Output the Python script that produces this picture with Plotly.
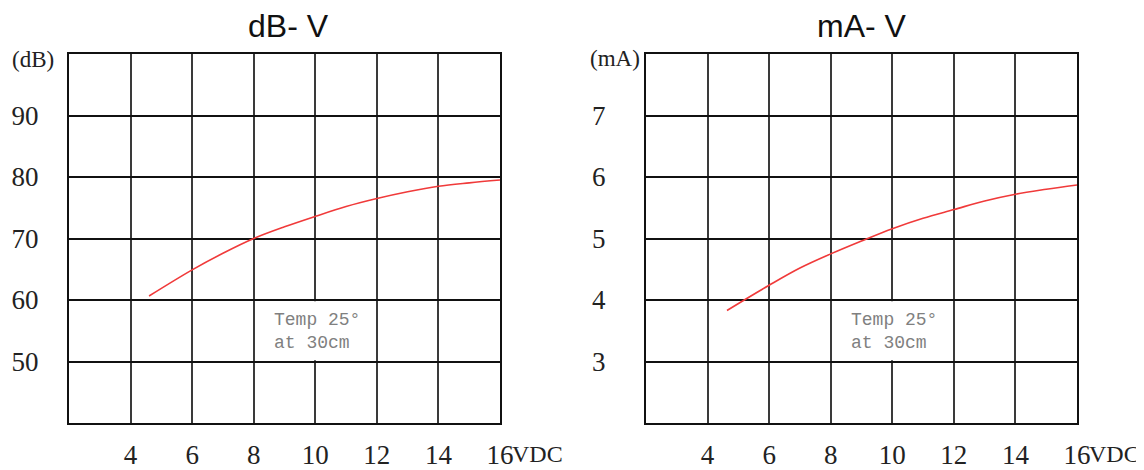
import plotly.graph_objects as go

# ---- data ----
volts_db = [4.6, 6, 7, 8, 9, 10, 11, 12, 13, 14, 15, 16]
db_values = [60.65, 64.9, 67.6, 70.0, 71.9, 73.6, 75.2, 76.5, 77.6, 78.5, 79.05, 79.5]

volts_ma = [4.63, 6, 7, 8, 9, 10, 11, 12, 13, 14, 15, 16]
ma_values = [3.83, 4.24, 4.52, 4.75, 4.96, 5.16, 5.33, 5.47, 5.61, 5.72, 5.80, 5.87]

x_ticks = [4, 6, 8, 10, 12, 14, 16]
x_ticktext = ["4", "6", "8", "10", "12", "14", "16"]
db_ticks = [50, 60, 70, 80, 90]
ma_ticks = [3, 4, 5, 6, 7]

OFF = 8  # page body margin
W, H = 1144 - OFF, 470 - OFF
def px(v): return (v - OFF) / W
def py(v): return 1 - (v - OFF) / H

LINE_RED = "#f03a3a"
SERIF = "Liberation Serif"

fig = go.Figure()
fig.add_trace(go.Scatter(x=volts_db, y=db_values, mode="lines", line=dict(color=LINE_RED, width=1.6, shape="spline"),
                         xaxis="x", yaxis="y", showlegend=False, hoverinfo="skip"))
fig.add_trace(go.Scatter(x=volts_ma, y=ma_values, mode="lines", line=dict(color=LINE_RED, width=1.6, shape="spline"),
                         xaxis="x2", yaxis="y2", showlegend=False, hoverinfo="skip"))

common_x = dict(range=[2, 16], tickvals=x_ticks, ticktext=x_ticktext, showgrid=True, gridcolor="#3a3a3a", gridwidth=2.2,
                showline=True, mirror=True, linecolor="#111", linewidth=2, zeroline=False, ticks="", automargin=False,
                tickfont=dict(family=SERIF, size=27, color="#222"), ticklabelstandoff=7, fixedrange=True)
common_y = dict(showgrid=True, gridcolor="#111", gridwidth=1.8, showline=True, mirror=True, linecolor="#111",
                linewidth=2, zeroline=False, ticks="", automargin=False,
                tickfont=dict(family=SERIF, size=27, color="#222"), fixedrange=True)

dom1 = [px(69), px(500)]
dom2 = [px(646), px(1077)]
ydom = [py(423), py(54)]

fig.update_layout(
    template="none",
    width=W, height=H, margin=dict(l=0, r=0, t=0, b=0, autoexpand=False),
    paper_bgcolor="white", plot_bgcolor="white",
    xaxis=dict(domain=dom1, anchor="y", **common_x),
    yaxis=dict(domain=ydom, anchor="x", range=[40, 100], tickvals=db_ticks, ticklabelstandoff=23, **common_y),
    xaxis2=dict(domain=dom2, anchor="y2", **common_x),
    yaxis2=dict(domain=ydom, anchor="x2", range=[2, 8], tickvals=ma_ticks, ticklabelstandoff=33, **common_y),
)

# white box behind the temperature note
fig.add_shape(type="rect", xref="x", yref="y", x0=8.06, x1=11.94, y0=50.2, y1=59.8,
              fillcolor="white", line=dict(width=0), layer="between")
fig.add_shape(type="rect", xref="x2", yref="y2", x0=8.06, x1=11.94, y0=3.02, y1=3.98,
              fillcolor="white", line=dict(width=0), layer="between")

note = "Temp 25°<br>at 30cm"
fig.add_annotation(text=note, xref="x", yref="y", x=8.6, y=54.8, xanchor="left", yanchor="middle", showarrow=False,
                   align="left", font=dict(family="Liberation Mono", size=18, color="#808080"))
fig.add_annotation(text=note, xref="x2", yref="y2", x=8.6, y=2 + (54.8 - 40) / 10, xanchor="left", yanchor="middle",
                   showarrow=False, align="left", font=dict(family="Liberation Mono", size=18, color="#808080"))

# titles
fig.add_annotation(text="dB- V", xref="paper", yref="paper", x=px(288), y=py(26), xanchor="center",
                   yanchor="middle", showarrow=False, font=dict(family="Liberation Sans", size=32, color="#111"))
fig.add_annotation(text="mA- V", xref="paper", yref="paper", x=px(862), y=py(26), xanchor="center",
                   yanchor="middle", showarrow=False, font=dict(family="Liberation Sans", size=32, color="#111"))

# unit labels
fig.add_annotation(text="(dB)", xref="paper", yref="paper", x=px(33), y=py(60), xanchor="center", yanchor="middle",
                   showarrow=False, font=dict(family=SERIF, size=23, color="#222"))
fig.add_annotation(text="(mA)", xref="paper", yref="paper", x=px(615), y=py(59), xanchor="center", yanchor="middle",
                   showarrow=False, font=dict(family=SERIF, size=23, color="#222"))
for xr in ["x", "x2"]:
    fig.add_annotation(text="VDC", xref=xr, yref="paper", x=16, y=py(454), xanchor="left", yanchor="middle",
                       xshift=11, borderpad=0, showarrow=False, font=dict(family=SERIF, size=24, color="#222"))

fig.write_html("out.html")
